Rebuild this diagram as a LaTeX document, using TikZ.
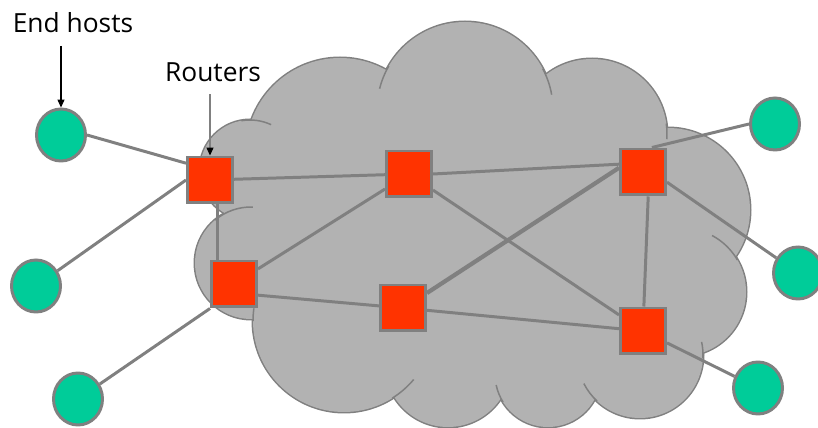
\documentclass[tikz,border=0pt]{standalone}
\usepackage{fontspec}
\setmainfont{Open Sans}
\usetikzlibrary{shapes.geometric,arrows.meta}

\definecolor{cloudgray}{HTML}{B2B2B2}
\definecolor{edgegray}{HTML}{808080}
\definecolor{routerred}{HTML}{FF3300}
\definecolor{hostgreen}{HTML}{00CC99}

\tikzset{
  router/.style={draw=edgegray, line width=1.7pt, fill=routerred,
    minimum width=0.9cm, minimum height=0.92cm, inner sep=0pt},
  host/.style={ellipse, draw=edgegray, line width=1.7pt, fill=hostgreen,
    minimum width=0.98cm, minimum height=1.04cm, inner sep=0pt},
  wire/.style={draw=edgegray, line width=1.7pt},
  tagtext/.style={font=\fontsize{15}{18}\selectfont, inner sep=2pt},
  pointer/.style={-{Triangle[length=4.5pt,width=4pt,color=black]},
    line width=0.6pt, shorten <=5pt}
}

\begin{document}
\begin{tikzpicture}[x=0.02cm, y=0.02cm]

    \useasboundingbox (0,0) rectangle (818,-428);

    % cloud: outline ring first, then the fill on top
    \foreach \cx/\cy/\r in {250/170/50, 340/152/94, 465/110/88, 592/134/75,
        668/210/82, 682/292/64, 640/355/63, 548/374/53, 448/364/63,
        344/321/91, 251/263/56}
      \draw[edgegray, line width=1.7pt] (\cx,-\cy) circle[radius=\r];

    \foreach \cx/\cy/\r in {250/170/50, 340/152/94, 465/110/88, 592/134/75,
        668/210/82, 682/292/64, 640/355/63, 548/374/53, 448/364/63,
        344/321/91, 251/263/56}
      \fill[cloudgray] (\cx,-\cy) circle[radius=\r];

    \fill[cloudgray] (250,-170) -- (340,-152) -- (465,-110) -- (592,-134)
      -- (668,-210) -- (682,-292) -- (640,-355) -- (548,-374) -- (448,-364)
      -- (344,-321) -- (251,-263) -- cycle;

    % small arcs inside the cloud
    \begin{scope}[edgegray, line width=0.85pt]
      \draw (250,-170) ++(100:50) arc[start angle=100, end angle=65, radius=50];
      \draw (465,-110) ++(150:88) arc[start angle=150, end angle=166, radius=88];
      \draw (465,-110) ++(28:88) arc[start angle=28, end angle=10, radius=88];
      \draw (592,-134) ++(8:75) arc[start angle=8, end angle=-4, radius=75];
      \draw (682,-292) ++(30:64) arc[start angle=30, end angle=62, radius=64];
      \draw (640,-355) ++(-3:63) arc[start angle=-3, end angle=12, radius=63];
      \draw (640,-355) ++(227:63) arc[start angle=227, end angle=207, radius=63];
      \draw (548,-374) ++(212:53) arc[start angle=212, end angle=192, radius=53];
      \draw (344,-321) ++(-58:91) arc[start angle=-58, end angle=-40, radius=91];
      \draw (344,-321) ++(172:91) arc[start angle=172, end angle=180, radius=91];
      \draw (251,-263) ++(130:56) arc[start angle=130, end angle=88, radius=56];
    \end{scope}

    % end hosts
    \node[host] (h1) at (61,-135) {};
    \node[host] (h2) at (36,-286) {};
    \node[host] (h3) at (78,-399) {};
    \node[host] (h4) at (775,-124) {};
    \node[host] (h5) at (798,-273) {};
    \node[host] (h6) at (758,-388) {};

    % routers
    \node[router] (r1) at (210,-180) {};
    \node[router] (r2) at (409,-174) {};
    \node[router] (r3) at (643,-172) {};
    \node[router] (r4) at (234,-284) {};
    \node[router] (r5) at (403,-308) {};
    \node[router] (r6) at (643,-331) {};

    % links
    \draw[wire] (h1.east) -- (r1.145);
    \draw[wire] (h2) -- (r1.west);
    \draw[wire] (h3) -- (r4.south west);
    \draw[wire] (r1) -- (r2);
    \draw[wire] (r1.288) -- (r1.288 |- r4.north);
    \draw[wire] (r2.east) -- (r3.162);
    \draw[wire] (r4) -- (r2);
    \draw[wire] (r2) -- (r6);
    \draw[wire, line width=2.4pt] (r5.32) -- (r3.170);
    \draw[wire] (r4.-25) -- (r5.175);
    \draw[wire] (r5) -- (r6);
    \draw[wire] (r3.-78) -- (r6.88);
    \draw[wire] (h4.west) -- (r3.70);
    \draw[wire] (r3.-23) -- (h5);
    \draw[wire] (r6) -- (h6);

    % labels
    \node[tagtext] (hosts) at (73,-23) {End hosts};
    \node[tagtext] (routers) at (213,-72) {Routers};

    \draw[pointer] (hosts.south -| h1.north) -- (h1.north);
    \draw[pointer, edgegray] (routers.south -| r1.north) -- (r1.north);

\end{tikzpicture}
\end{document}
